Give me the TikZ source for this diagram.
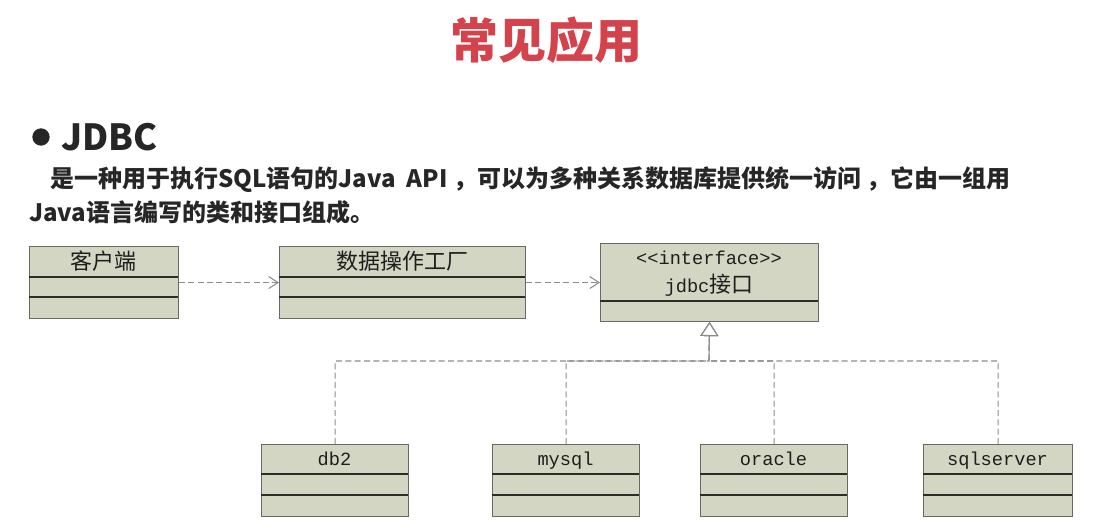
\documentclass[tikz,border=0pt]{standalone}
\usepackage{fontspec}
\usepackage{tikz}
\usetikzlibrary{arrows.meta}
\setmainfont{Liberation Serif}
\newfontfamily\cjkfont{Noto Sans CJK SC}
\newfontfamily\codefont{Liberation Mono}
\definecolor{titlered}{RGB}{212,66,76}
\definecolor{bodygray}{RGB}{38,38,38}
\definecolor{boxfill}{RGB}{211,214,195}
\definecolor{boxborder}{RGB}{105,105,95}
\definecolor{divline}{RGB}{45,45,40}
\definecolor{dashgray}{RGB}{140,140,140}
\definecolor{boxtext}{RGB}{30,30,30}

\begin{document}
\begin{tikzpicture}[x=0.75pt,y=0.75pt,yscale=-1,xscale=1,
  umlbox/.style={draw=boxborder, fill=boxfill, line width=0.8pt, inner sep=0pt, anchor=north west},
  umldiv/.style={draw=divline, line width=1pt},
  boxcjk/.style={inner sep=0.75pt, anchor=base, text=boxtext, font=\cjkfont\fontsize{16.5}{18}\selectfont},
  boxcode/.style={inner sep=0.75pt, anchor=base, text=boxtext, font=\codefont\fontsize{14}{16}\selectfont},
  dependency/.style={draw=dashgray, line width=0.8pt, dash pattern=on 4.5pt off 2.5pt, -{Straight Barb[length=7pt,width=9pt]}},
  realize/.style={draw=dashgray, line width=0.8pt, dash pattern=on 4.5pt off 2.5pt, -{Triangle[open,length=10.5pt,width=13.5pt,fill=white]}}]
\useasboundingbox (0,0) rectangle (1096,529);

% Text Node
\node[text=titlered, font=\cjkfont\bfseries\fontsize{36}{40}\selectfont] (title) at (546,40) {常见应用};
%Shape: Circle
\node[circle, fill=bodygray, minimum size=13pt, inner sep=0pt] (bullet) at (41,137) {};
% Text Node
\node[anchor=west, inner sep=0pt, text=bodygray, font=\cjkfont\bfseries\fontsize{27}{30}\selectfont] (jdbchead) at (61,137) {JDBC};
% Text Node
\node[anchor=west, inner sep=0pt, text=bodygray, font=\cjkfont\bfseries\fontsize{18}{22}\selectfont] (intro1) at (50,180) {是一种用于执行SQL语句的Java\ \ API ，可以为多种关系数据库提供统一访问 ，它由一组用};
% Text Node
\node[anchor=west, inner sep=0pt, text=bodygray, font=\cjkfont\bfseries\fontsize{18}{22}\selectfont] (intro2) at (29,212) {Java语言编写的类和接口组成。};

%Shape: Class box
\node[umlbox, minimum width=111.75pt, minimum height=54pt] (client) at (29,246) {};
\draw[umldiv] (29,277) -- (178,277) (29,297) -- (178,297);
%Shape: Class box
\node[umlbox, minimum width=184.5pt, minimum height=54pt] (factory) at (279,246) {};
\draw[umldiv] (279,277) -- (525,277) (279,297) -- (525,297);
%Shape: Class box
\node[umlbox, minimum width=163.5pt, minimum height=58.5pt] (jdbc) at (600,243) {};
\draw[umldiv] (600,301) -- (818,301);
%Shape: Class box
\node[umlbox, minimum width=110.25pt, minimum height=54pt] (db2) at (261,444) {};
\draw[umldiv] (261,474) -- (408,474) (261,495) -- (408,495);
%Shape: Class box
\node[umlbox, minimum width=110.25pt, minimum height=54pt] (mysql) at (492,444) {};
\draw[umldiv] (492,474) -- (639,474) (492,495) -- (639,495);
%Shape: Class box
\node[umlbox, minimum width=110.25pt, minimum height=54pt] (oracle) at (700,444) {};
\draw[umldiv] (700,474) -- (847,474) (700,495) -- (847,495);
%Shape: Class box
\node[umlbox, minimum width=111.75pt, minimum height=54pt] (sqlserver) at (923,444) {};
\draw[umldiv] (923,474) -- (1072,474) (923,495) -- (1072,495);

% Text Node
\node[boxcjk] (clientname) at (103.5,269) {客户端};
% Text Node
\node[boxcjk] (factoryname) at (402,269) {数据操作工厂};
% Text Node
\node[boxcode] (jdbcstereo) at (709,264) {<{}<interface>{}>};
% Text Node
\node[boxcjk] (jdbcname) at (709,292) {{\codefont\fontsize{14}{16}\selectfont jdbc}接口};
% Text Node
\node[boxcode] (db2name) at (334.5,465) {db2};
% Text Node
\node[boxcode] (mysqlname) at (565.5,465) {mysql};
% Text Node
\node[boxcode] (oraclename) at (773.5,465) {oracle};
% Text Node
\node[boxcode] (sqlservername) at (997.5,465) {sqlserver};

%Straight Lines
\draw[dependency] (client) -- (factory);
\draw[dependency] (factory) -- (jdbc);
%Straight Lines
\coordinate (bus) at (709,361);
\draw[realize] (db2.north) |- (bus) -- (jdbc.south);
\draw[realize] (mysql.north) |- (bus) -- (jdbc.south);
\draw[realize] (oracle.north) |- (bus) -- (jdbc.south);
\draw[realize] (sqlserver.north) |- (bus) -- (jdbc.south);

\end{tikzpicture}
\end{document}
